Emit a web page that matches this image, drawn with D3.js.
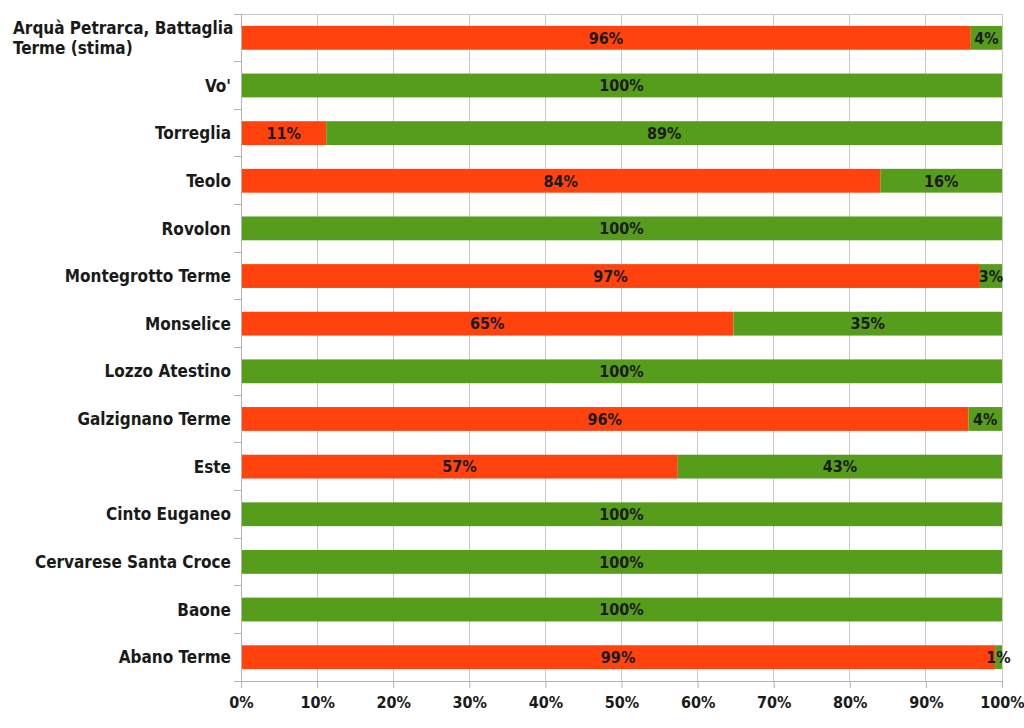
<!DOCTYPE html>
<html><head><meta charset="utf-8">
<script src="https://cdn.jsdelivr.net/npm/d3@7"></script>
<style>
body{margin:0;background:#fff;}
text{font-family:"DejaVu Sans",sans-serif;font-weight:bold;fill:#1a1a1a;font-stretch:condensed;}
</style></head><body>
<svg id="c" width="1024" height="728"></svg>
<script>
const categories = ["Arquà Petrarca, Battaglia\nTerme (stima)","Vo'","Torreglia","Teolo","Rovolon","Montegrotto Terme","Monselice","Lozzo Atestino","Galzignano Terme","Este","Cinto Euganeo","Cervarese Santa Croce","Baone","Abano Terme"];
const redValues   = [95.9, 0, 11.2, 84.0, 0, 97.1, 64.7, 0, 95.6, 57.4, 0, 0, 0, 99.1];
const greenValues = [4.1, 100, 88.8, 16.0, 100, 2.9, 35.3, 100, 4.4, 42.6, 100, 100, 100, 0.9];
const tickValues = [0,10,20,30,40,50,60,70,80,90,100];
const colors = {red:"#FF420E", green:"#579D1C"};

const svg = d3.select("#c");
const m = {left:241, right:1002, top:14, bottom:681};
const x = d3.scaleLinear().domain([0,100]).range([m.left, m.right]);
const y = d3.scaleBand().domain(categories).range([m.top, m.bottom]).paddingInner(0.5).paddingOuter(0.25);

// gridlines
svg.append("g").selectAll("line").data(tickValues).join("line")
  .attr("x1", d=>x(d)).attr("x2", d=>x(d)).attr("y1", m.top).attr("y2", m.bottom)
  .attr("stroke", "#c8c8c8").attr("stroke-width", 1).attr("shape-rendering","crispEdges");
svg.append("line").attr("x1", m.left).attr("x2", m.right).attr("y1", m.top).attr("y2", m.top)
  .attr("stroke", "#c8c8c8").attr("shape-rendering","crispEdges");

const data = categories.map((c,i)=>({c, r:redValues[i], g:greenValues[i]}));
const rows = svg.append("g").selectAll("g").data(data).join("g");
rows.append("rect").attr("x", x(0)).attr("y", d=>y(d.c)).attr("height", y.bandwidth())
  .attr("width", d=>x(d.r)-x(0)).attr("fill", colors.red);
rows.append("rect").attr("x", d=>x(d.r)).attr("y", d=>y(d.c)).attr("height", y.bandwidth())
  .attr("width", d=>x(d.r+d.g)-x(d.r)).attr("fill", colors.green);
rows.filter(d=>d.r>0).append("text")
  .attr("x", d=>x(d.r/2)).attr("y", d=>y(d.c)+y.bandwidth()/2).attr("dy","0.36em")
  .attr("text-anchor","middle").attr("font-size",16).text(d=>Math.round(d.r)+"%");
rows.filter(d=>d.g>0).append("text")
  .attr("x", d=>x(d.r+d.g/2)).attr("y", d=>y(d.c)+y.bandwidth()/2).attr("dy","0.36em")
  .attr("text-anchor","middle").attr("font-size",16).text(d=>Math.round(d.g)+"%");

// axes
const ax = d3.axisBottom(x).tickValues(tickValues).tickFormat(d=>d+"%").tickSize(7).tickPadding(9);
const gx = svg.append("g").attr("transform",`translate(0,${m.bottom})`).call(ax);
gx.select(".domain").attr("stroke","#b3b3b3");
gx.selectAll(".tick line").attr("stroke","#b3b3b3");
gx.selectAll("text").attr("font-size",16).attr("fill","#1a1a1a").attr("font-family","DejaVu Sans").attr("font-weight","bold");

// left axis line and band boundary ticks
svg.append("line").attr("x1",m.left).attr("x2",m.left).attr("y1",m.top).attr("y2",m.bottom).attr("stroke","#b3b3b3").attr("shape-rendering","crispEdges");
const bounds = d3.range(categories.length+1).map(i=>m.top + i*(m.bottom-m.top)/categories.length);
svg.append("g").selectAll("line").data(bounds).join("line")
  .attr("x1",m.left-7).attr("x2",m.left).attr("y1",d=>d).attr("y2",d=>d)
  .attr("stroke","#b3b3b3").attr("shape-rendering","crispEdges");

// category labels
const lab = svg.append("g").selectAll("text").data(categories).join("text")
  .attr("font-size",17);
lab.each(function(d){
  const lines = d.split("\n");
  const cy = y(d)+y.bandwidth()/2;
  const t = d3.select(this);
  const multi = lines.length>1;
  t.attr("text-anchor", multi?"start":"end");
  lines.forEach((l,i)=>{
    t.append("tspan").attr("x", multi?13:231)
      .attr("y", cy + (i-(lines.length-1)/2)*20).attr("dy","0.36em").text(l);
  });
});
</script></body></html>
